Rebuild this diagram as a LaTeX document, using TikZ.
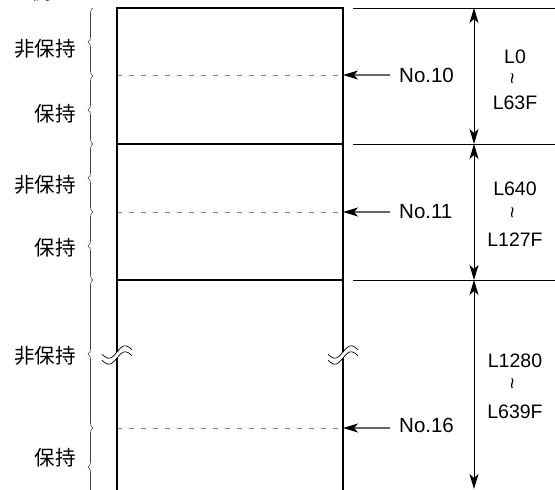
\documentclass[tikz,border=0pt]{standalone}
\usepackage{fontspec}
\setmainfont{Liberation Sans}
\newfontfamily\jpfont{Noto Sans CJK JP}
\usetikzlibrary{arrows.meta,decorations.pathreplacing}
\tikzset{
  boxline/.style={line width=1.5pt,black},
  thinline/.style={line width=0.8pt,black},
  dashline/.style={line width=0.8pt,gray,dash pattern=on 5pt off 7pt},
  ptrarrow/.style={line width=1.1pt,draw=black!60,-{Stealth[length=15pt,width=9pt,inset=4pt,color=black,fill=black]}},
  rangearrow/.style={line width=1pt,black,{Stealth[length=15pt,width=9pt,inset=4pt]}-{Stealth[length=15pt,width=9pt,inset=4pt]}},
  bracepath/.style={line width=0.6pt,black!75,decorate,decoration={brace,amplitude=5pt}},
  jplabel/.style={font=\jpfont\fontsize{20.5}{24}\selectfont,anchor=east,inner sep=0pt},
  nolabel/.style={font=\fontsize{20.5}{24}\selectfont,anchor=west,inner sep=0pt},
  rlabel/.style={font=\fontsize{19.5}{22}\selectfont,inner sep=0pt},
  tildelabel/.style={font=\fontsize{20}{20}\selectfont,inner sep=0pt,rotate=90}
}
\begin{document}
\begin{tikzpicture}[x=1pt,y=-1pt]
\useasboundingbox (0,0) rectangle (555,490);
\clip (0,0) rectangle (555,490);
% partial heading
\node[font=\jpfont\fontsize{20.5}{24}\selectfont,inner sep=0pt] (head) at (42,-8) {例};
% coordinates
\coordinate (TL) at (117,8);
\coordinate (TR) at (343,8);
\coordinate (BL) at (117,492);
\coordinate (BR) at (343,492);
\coordinate (M1L) at (117,144); \coordinate (M1R) at (343,144);
\coordinate (M2L) at (117,280); \coordinate (M2R) at (343,280);
% dashed lines
\coordinate (D1L) at (117,75);  \coordinate (D1R) at (343,75);
\coordinate (D2L) at (117,212); \coordinate (D2R) at (343,212);
\coordinate (D3L) at (117,428); \coordinate (D3R) at (343,428);
\draw[dashline] (D1L) -- (D1R);
\draw[dashline] (D2L) -- (D2R);
\draw[dashline] (D3L) -- (D3R);
% box
\draw[boxline] (BL) -- (TL) -- (TR) -- (BR);
\draw[boxline] (M1L) -- (M1R);
\draw[boxline] (M2L) -- (M2R);
% wave breaks
\foreach \cx/\cy in {117/355, 343/355}{
  \fill[white] plot[domain=-15:15,samples=40,smooth] ({\cx+\x},{\cy-3-0.15*\x-5*sin(12*\x)})
     -- plot[domain=15:-15,samples=40,smooth] ({\cx+\x},{\cy+3-0.15*\x-5*sin(12*\x)}) -- cycle;
  \draw[line width=0.7pt] plot[domain=-15:15,samples=40,smooth] ({\cx+\x},{\cy-3-0.15*\x-5*sin(12*\x)});
  \draw[line width=0.7pt] plot[domain=-15:15,samples=40,smooth] ({\cx+\x},{\cy+3-0.15*\x-5*sin(12*\x)});
}
% right guide lines
\coordinate (G0a) at (353,8);   \coordinate (G0b) at (555,8);
\coordinate (G1a) at (353,144); \coordinate (G1b) at (555,144);
\coordinate (G2a) at (353,280); \coordinate (G2b) at (555,280);
\draw[thinline] (G0a) -- (G0b);
\draw[thinline] (G1a) -- (G1b);
\draw[thinline] (G2a) -- (G2b);
% range arrows
\coordinate (A0) at (474,8);
\coordinate (A1) at (474,144);
\coordinate (A2) at (474,280);
\coordinate (A3) at (474,489);
\draw[rangearrow] (A0) -- (A1);
\draw[rangearrow] (A1) -- (A2);
\draw[rangearrow] (A2) -- (A3);
% range labels
\node[rlabel] (r1a) at (515,57) {L0};
\node[tildelabel] (r1t) at (515,79) {\textasciitilde};
\node[rlabel] (r1b) at (515,103) {L63F};
\node[rlabel] (r2a) at (515,189) {L640};
\node[tildelabel] (r2t) at (515,213) {\textasciitilde};
\node[rlabel] (r2b) at (515,240) {L127F};
\node[rlabel] (r3a) at (515,361) {L1280};
\node[tildelabel] (r3t) at (515,384) {\textasciitilde};
\node[rlabel] (r3b) at (515,412) {L639F};
% pointer labels
\node[nolabel] (n10) at (399,75) {No.10};
\node[nolabel] (n11) at (399,212) {No.11};
\node[nolabel] (n16) at (399,425) {No.16};
\draw[ptrarrow] (n10.west) ++(-9,0) -- (D1R);
\draw[ptrarrow] (n11.west) ++(-9,0) -- (D2R);
\draw[ptrarrow] (n16.west) ++(-9,3) -- (D3R);
% braces
\coordinate (b0) at (93,8);
\coordinate (b1) at (93,76);
\coordinate (b2) at (93,144);
\coordinate (b3) at (93,212);
\coordinate (b4) at (93,280);
\coordinate (b5) at (93,428);
\coordinate (b6) at (93,506);
\draw[bracepath] (b1) -- (b0);
\draw[bracepath] (b2) -- (b1);
\draw[bracepath] (b3) -- (b2);
\draw[bracepath] (b4) -- (b3);
\draw[bracepath] (b5) -- (b4);
\draw[bracepath] (b6) -- (b5);
% left labels
\node[jplabel] (l1) at (76,49) {非保持};
\node[jplabel] (l2) at (76,114) {保持};
\node[jplabel] (l3) at (76,185) {非保持};
\node[jplabel] (l4) at (76,248) {保持};
\node[jplabel] (l5) at (76,356) {非保持};
\node[jplabel] (l6) at (76,458) {保持};
\end{tikzpicture}
\end{document}
